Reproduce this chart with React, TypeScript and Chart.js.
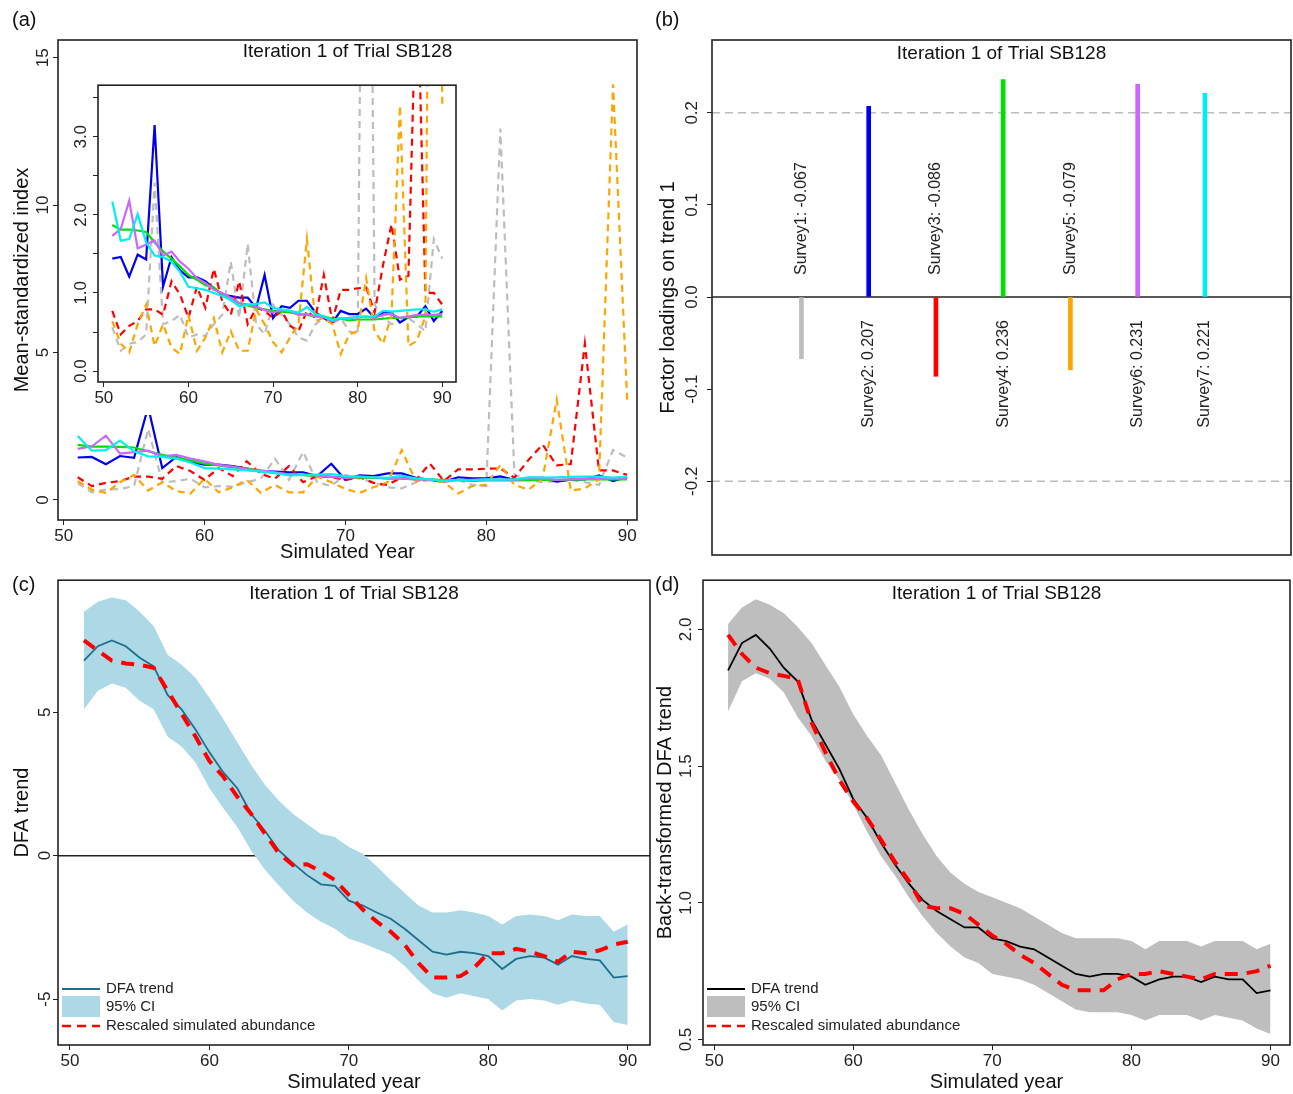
import React, { useEffect, useRef } from 'react';
import { Chart, registerables } from 'chart.js';

Chart.register(...registerables);

const FONT = '"Liberation Sans", Arial, sans-serif';

// ---- data ----
const years = [51, 52, 53, 54, 55, 56, 57, 58, 59, 60, 61, 62, 63, 64, 65, 66, 67, 68, 69, 70,
  71, 72, 73, 74, 75, 76, 77, 78, 79, 80, 81, 82, 83, 84, 85, 86, 87, 88, 89, 90];

// panel (a): mean-standardized survey indices
const survey1 = [0.56, 0.26, 0.35, 0.37, 0.47, 2.41, 0.6, 0.64, 0.72, 0.43, 0.47, 0.45, 0.6, 0.72, 1.4, 0.68, 1.63, 0.6, 0.47, 0.85,
  0.72, 0.6, 0.43, 0.39, 0.6, 0.68, 0.6, 0.68, 0.51, 0.47, 12.6, 0.85, 0.68, 0.6, 0.64, 0.68, 0.6, 0.51, 1.69, 1.44];
const survey2 = [1.44, 1.46, 1.21, 1.49, 1.43, 3.15, 1.08, 1.46, 1.29, 1.2, 1.2, 1.15, 1.06, 0.98, 0.96, 0.94, 0.94, 0.81, 1.23, 0.68,
  0.83, 0.81, 0.9, 0.9, 0.75, 0.68, 0.62, 0.77, 0.73, 0.73, 0.8, 0.68, 0.75, 0.75, 0.62, 0.69, 0.7, 0.83, 0.64, 0.77];
const survey3 = [0.77, 0.47, 0.58, 0.64, 0.79, 0.79, 0.72, 1.15, 0.98, 0.68, 1.08, 0.81, 1.31, 0.89, 0.72, 1.15, 0.6, 0.81, 0.77, 0.68,
  0.77, 0.58, 0.51, 0.77, 0.68, 1.23, 0.64, 1.04, 1.04, 1.06, 1.07, 0.75, 1.36, 1.88, 1.17, 1.22, 5.3, 1.0, 1.0, 0.85];
const survey4 = [1.87, 1.81, 1.81, 1.8, 1.78, 1.65, 1.53, 1.44, 1.34, 1.23, 1.17, 1.1, 1.07, 0.98, 0.91, 0.87, 0.84, 0.81, 0.79, 0.77,
  0.76, 0.75, 0.73, 0.72, 0.7, 0.7, 0.67, 0.67, 0.65, 0.66, 0.66, 0.66, 0.67, 0.68, 0.68, 0.69, 0.7, 0.7, 0.7, 0.7];
const survey5 = [0.64, 0.35, 0.24, 0.6, 0.85, 0.32, 0.6, 0.3, 0.22, 0.72, 0.26, 0.43, 0.68, 0.24, 0.51, 0.26, 0.26, 0.79, 0.6, 0.37,
  0.24, 0.43, 0.6, 1.69, 0.64, 0.68, 0.6, 0.22, 0.47, 0.51, 1.19, 0.51, 0.35, 0.72, 3.4, 0.32, 0.39, 0.7, 14.1, 3.4];
const survey6 = [1.73, 1.82, 2.18, 1.57, 1.62, 1.67, 1.48, 1.53, 1.4, 1.31, 1.19, 1.13, 1.04, 1.0, 0.94, 0.87, 0.85, 0.83, 0.78, 0.75,
  0.78, 0.77, 0.72, 0.73, 0.7, 0.69, 0.64, 0.67, 0.68, 0.69, 0.7, 0.68, 0.72, 0.73, 0.68, 0.7, 0.72, 0.72, 0.72, 0.73];
const survey7 = [2.17, 1.67, 1.69, 2.01, 1.65, 1.48, 1.46, 1.4, 1.27, 1.08, 1.06, 1.04, 1.0, 0.96, 0.91, 0.83, 0.85, 0.86, 0.88, 0.81,
  0.79, 0.77, 0.75, 0.82, 0.73, 0.7, 0.65, 0.68, 0.67, 0.7, 0.69, 0.7, 0.77, 0.76, 0.77, 0.78, 0.79, 0.79, 0.76, 0.79];

const surveyNames = ['Survey1', 'Survey2', 'Survey3', 'Survey4', 'Survey5', 'Survey6', 'Survey7'];
const surveyColors = ['#bdbdbd', '#0000ee', '#ff0000', '#00e000', '#ffa500', '#cc66ff', '#00eeee'];
const surveyDashed = [true, false, true, false, true, false, false];
const surveyValues = [survey1, survey2, survey3, survey4, survey5, survey6, survey7];

// panel (b): factor loadings
const loadings = [-0.067, 0.207, -0.086, 0.236, -0.079, 0.231, 0.221];

// panel (c): DFA trend
const dfaTrend = [6.8, 7.3, 7.5, 7.3, 6.9, 6.6, 5.6, 5.1, 4.4, 3.6, 2.9, 2.35, 1.45, 0.85, 0.17, -0.27, -0.68, -1.0, -1.05, -1.57,
  -1.74, -1.98, -2.2, -2.55, -2.95, -3.35, -3.45, -3.35, -3.4, -3.5, -3.95, -3.6, -3.5, -3.55, -3.8, -3.5, -3.6, -3.65, -4.25, -4.2];
const dfaUpper = [8.5, 8.85, 9.0, 8.9, 8.5, 8.0, 7.0, 6.65, 6.2, 5.5, 4.75, 3.95, 3.15, 2.45, 1.9, 1.45, 1.1, 0.75, 0.65, 0.3,
  0.07, -0.37, -0.85, -1.3, -1.74, -1.98, -1.98, -1.9, -1.98, -2.1, -2.4, -2.1, -2.05, -2.1, -2.25, -2.05, -2.1, -2.1, -2.65, -2.4];
const dfaLower = [5.1, 5.75, 6.0, 5.85, 5.4, 5.1, 4.15, 3.8, 3.25, 2.35, 1.65, 1.0, 0.17, -0.5, -1.05, -1.57, -1.98, -2.3, -2.55, -2.9,
  -3.05, -3.25, -3.45, -3.85, -4.35, -4.8, -4.95, -4.8, -4.9, -5.0, -5.4, -5.05, -5.0, -5.05, -5.2, -5.05, -5.15, -5.2, -5.8, -5.9];
const dfaAbund = [7.5, 7.15, 6.8, 6.7, 6.65, 6.55, 5.75, 4.95, 4.15, 3.3, 2.75, 2.05, 1.45, 0.75, 0.07, -0.33, -0.3, -0.55, -0.85, -1.37,
  -1.88, -2.3, -2.65, -3.1, -3.75, -4.25, -4.25, -4.2, -3.9, -3.4, -3.4, -3.25, -3.35, -3.5, -3.7, -3.35, -3.4, -3.3, -3.1, -3.0];

// panel (d): back-transformed DFA trend
const btTrend = [1.85, 1.95, 1.98, 1.93, 1.86, 1.81, 1.67, 1.58, 1.49, 1.38, 1.31, 1.22, 1.14, 1.07, 1.01, 0.97, 0.94, 0.91, 0.91, 0.87,
  0.86, 0.84, 0.83, 0.8, 0.77, 0.74, 0.73, 0.74, 0.74, 0.73, 0.7, 0.72, 0.73, 0.73, 0.71, 0.73, 0.72, 0.72, 0.67, 0.68];
const btUpper = [2.02, 2.08, 2.11, 2.09, 2.06, 2.01, 1.95, 1.87, 1.79, 1.69, 1.61, 1.54, 1.44, 1.34, 1.25, 1.17, 1.11, 1.07, 1.04, 1.02,
  1.0, 0.98, 0.95, 0.92, 0.89, 0.87, 0.87, 0.87, 0.87, 0.86, 0.83, 0.86, 0.86, 0.86, 0.84, 0.86, 0.86, 0.86, 0.83, 0.85];
const btLower = [1.7, 1.81, 1.84, 1.82, 1.77, 1.68, 1.61, 1.52, 1.45, 1.36, 1.26, 1.17, 1.1, 1.02, 0.95, 0.89, 0.84, 0.8, 0.78, 0.74,
  0.73, 0.72, 0.7, 0.67, 0.64, 0.61, 0.6, 0.6, 0.6, 0.59, 0.57, 0.59, 0.59, 0.59, 0.57, 0.59, 0.58, 0.57, 0.54, 0.52];
const btAbund = [1.98, 1.91, 1.86, 1.84, 1.83, 1.82, 1.66, 1.55, 1.45, 1.37, 1.31, 1.23, 1.15, 1.08, 0.99, 0.98, 0.98, 0.96, 0.92, 0.88,
  0.85, 0.81, 0.78, 0.74, 0.7, 0.68, 0.68, 0.68, 0.72, 0.74, 0.74, 0.75, 0.74, 0.73, 0.72, 0.74, 0.74, 0.74, 0.75, 0.77];

const TITLE = 'Iteration 1 of Trial SB128';

const pts = (vals: number[]) => vals.map((v, i) => ({ x: years[i], y: v }));

// R-style frame, title, panel letter, and extra reference lines
const framePlugin = (letter: string, lx: number, ly: number, title?: string, ty = 16, hlines: { v: number; dash: number[]; color: string }[] = []) => ({
  id: 'frame',
  beforeDatasetsDraw(chart: any) {
    const { ctx, chartArea: a, scales } = chart;
    ctx.save();
    hlines.forEach((h) => {
      const y = scales.y.getPixelForValue(h.v);
      ctx.strokeStyle = h.color;
      ctx.lineWidth = 1.5;
      ctx.setLineDash(h.dash);
      ctx.beginPath();
      ctx.moveTo(a.left, y);
      ctx.lineTo(a.right, y);
      ctx.stroke();
    });
    ctx.restore();
  },
  afterDraw(chart: any) {
    const { ctx, chartArea: a } = chart;
    ctx.save();
    ctx.strokeStyle = '#222';
    ctx.lineWidth = 1.6;
    ctx.strokeRect(a.left, a.top, a.right - a.left, a.bottom - a.top);
    ctx.fillStyle = '#111';
    ctx.font = `20px ${FONT}`;
    ctx.textBaseline = 'middle';
    ctx.textAlign = 'left';
    ctx.fillText(letter, lx, ly);
    if (title) {
      ctx.font = `19px ${FONT}`;
      ctx.textAlign = 'center';
      ctx.fillText(title, (a.left + a.right) / 2, a.top + ty);
    }
    ctx.restore();
  },
});

const legendPlugin = (lineColor: string, fillColor: string) => ({
  id: 'rlegend',
  afterDraw(chart: any) {
    const { ctx, chartArea: a } = chart;
    const x = a.left + 4;
    const b = a.bottom;
    ctx.save();
    ctx.strokeStyle = lineColor;
    ctx.lineWidth = 2;
    ctx.beginPath();
    ctx.moveTo(x, b - 56);
    ctx.lineTo(x + 38, b - 56);
    ctx.stroke();
    ctx.fillStyle = fillColor;
    ctx.fillRect(x, b - 49, 38, 21);
    ctx.strokeStyle = '#ff0000';
    ctx.lineWidth = 2.5;
    ctx.setLineDash([9, 6]);
    ctx.beginPath();
    ctx.moveTo(x, b - 19);
    ctx.lineTo(x + 38, b - 19);
    ctx.stroke();
    ctx.fillStyle = '#222';
    ctx.font = `15px ${FONT}`;
    ctx.textBaseline = 'middle';
    ctx.fillText('DFA trend', x + 44, b - 56);
    ctx.fillText('95% CI', x + 44, b - 38);
    ctx.fillText('Rescaled simulated abundance', x + 44, b - 19);
    ctx.restore();
  },
});

const loadLabelPlugin = {
  id: 'loadLabels',
  afterDatasetsDraw(chart: any) {
    const { ctx, scales } = chart;
    ctx.save();
    ctx.font = `16px ${FONT}`;
    ctx.fillStyle = '#222';
    ctx.textBaseline = 'middle';
    loadings.forEach((v, i) => {
      const x = scales.x.getPixelForValue(i + 1);
      const y0 = scales.y.getPixelForValue(0);
      ctx.save();
      ctx.translate(x, v > 0 ? y0 + 23 : y0 - 22);
      ctx.rotate(-Math.PI / 2);
      ctx.textAlign = v > 0 ? 'right' : 'left';
      ctx.fillText(`${surveyNames[i]}: ${v.toFixed(3)}`, 0, 0);
      ctx.restore();
    });
    ctx.restore();
  },
};

const whiteBg = {
  id: 'whiteBg',
  beforeDraw(chart: any) {
    const { ctx, width, height } = chart;
    ctx.save();
    ctx.fillStyle = '#fff';
    ctx.fillRect(0, 0, width, height);
    ctx.restore();
  },
};

const tickFont = { family: FONT, size: 17 };
const titleFont = { family: FONT, size: 20 };

const xAxis = (min: number, max: number, h: number, title?: string) => ({
  type: 'linear',
  min,
  max,
  afterFit: (s: any) => { s.height = h; },
  grid: { drawOnChartArea: false, drawTicks: true, tickLength: 5, color: '#222' },
  border: { display: false },
  ticks: { stepSize: 10, includeBounds: false, color: '#222', font: tickFont, padding: 1, maxRotation: 0 },
  title: title ? { display: true, text: title, color: '#111', font: titleFont, padding: 0 } : { display: false },
});

const yAxis = (min: number, max: number, w: number, step: number, title: string | undefined, fmt: (v: number) => string, titlePad = 10) => ({
  min,
  max,
  afterFit: (s: any) => { s.width = w; },
  grid: { drawOnChartArea: false, drawTicks: true, tickLength: 5, color: '#222' },
  border: { display: false },
  ticks: { stepSize: step, includeBounds: false, color: '#222', font: tickFont, padding: 0, minRotation: 90, maxRotation: 90, crossAlign: 'center', callback: (v: number) => fmt(v) },
  title: title ? { display: true, text: title, color: '#111', font: titleFont, padding: { top: titlePad, bottom: 0 } } : { display: false },
});

const lineDs = (data: number[], color: string, width: number, dash: number[] = [], order = 0) => ({
  data: pts(data),
  borderColor: color,
  borderWidth: width,
  borderDash: dash,
  pointRadius: 0,
  fill: false,
  tension: 0,
  order,
});

const surveyDatasets = (w: number) =>
  surveyValues.map((vals, i) => lineDs(vals, surveyColors[i], w, surveyDashed[i] ? [7, 5] : [], 7 - i));

const baseOptions = (scales: any, padding: any) => ({
  responsive: false,
  animation: false,
  layout: { padding },
  plugins: { legend: { display: false }, tooltip: { enabled: false } },
  scales,
});

const configA = () => ({
  type: 'line',
  data: { datasets: surveyDatasets(2.2) },
  options: baseOptions(
    { x: xAxis(49.6, 90.7, 44, 'Simulated Year'), y: yAxis(-0.68, 15.6, 58, 5, 'Mean-standardized index', (v) => String(v)) },
    { top: 40, right: 13, left: 0, bottom: 6 },
  ),
  plugins: [framePlugin('(a)', 12, 20, TITLE, 12)],
});

const configInset = () => ({
  type: 'line',
  data: { datasets: surveyDatasets(2.2) },
  options: baseOptions(
    {
      x: xAxis(49.31, 91.62, 33, undefined),
      y: yAxis(-0.14, 3.66, 38, 0.5, undefined, (v) => (Math.abs(v % 1) < 1e-6 ? v.toFixed(1) : '')),
    },
    { top: 7, right: 4, left: 0, bottom: 0 },
  ),
  plugins: [whiteBg, framePlugin('', 0, 0)],
});

const configB = () => ({
  type: 'bar',
  data: {
    datasets: [{
      data: loadings.map((v, i) => ({ x: i + 1, y: v })),
      backgroundColor: surveyColors,
      barThickness: 4,
    }],
  },
  options: baseOptions(
    {
      x: { type: 'linear', min: -0.33, max: 8.28, offset: false, grid: { offset: false }, display: false },
      y: yAxis(-0.28, 0.279, 62, 0.1, 'Factor loadings on trend 1', (v) => v.toFixed(1), 6),
    },
    { top: 40, right: 2, left: 0, bottom: 15 },
  ),
  plugins: [
    framePlugin('(b)', 5, 20, TITLE, 14, [
      { v: 0.2, dash: [8, 5], color: '#bbbbbb' },
      { v: -0.2, dash: [8, 5], color: '#bbbbbb' },
      { v: 0, dash: [], color: '#222' },
    ]),
    loadLabelPlugin,
  ],
});

const configC = () => ({
  type: 'line',
  data: {
    datasets: [
      { ...lineDs(dfaUpper, 'rgba(0,0,0,0)', 0, [], 3), fill: '+1', backgroundColor: '#add8e6' },
      lineDs(dfaLower, 'rgba(0,0,0,0)', 0, [], 3),
      lineDs(dfaTrend, '#1f6e8c', 1.8, [], 1),
      lineDs(dfaAbund, '#ff0000', 4, [13, 9], 0),
    ],
  },
  options: baseOptions(
    { x: xAxis(49.14, 91.6, 49, 'Simulated year'), y: yAxis(-6.6, 9.6, 58, 5, 'DFA trend', (v) => String(v)) },
    { top: 0, right: 2, left: 0, bottom: 0 },
  ),
  plugins: [
    framePlugin('(c)', 12, 15, TITLE, 14, [{ v: 0, dash: [], color: '#222' }]),
    legendPlugin('#1f6e8c', '#add8e6'),
  ],
});

const configD = () => ({
  type: 'line',
  data: {
    datasets: [
      { ...lineDs(btUpper, 'rgba(0,0,0,0)', 0, [], 3), fill: '+1', backgroundColor: '#bebebe' },
      lineDs(btLower, 'rgba(0,0,0,0)', 0, [], 3),
      lineDs(btTrend, '#000000', 1.8, [], 1),
      lineDs(btAbund, '#ff0000', 4, [13, 9], 0),
    ],
  },
  options: baseOptions(
    { x: xAxis(49.2, 91.4, 49, 'Simulated year'), y: yAxis(0.48, 2.18, 53, 0.5, 'Back-transformed DFA trend', (v) => v.toFixed(1), 3) },
    { top: 0, right: 3, left: 0, bottom: 0 },
  ),
  plugins: [framePlugin('(d)', 5, 15, TITLE, 14), legendPlugin('#000000', '#bebebe')],
});

const Panel: React.FC<{ make: () => any; left: number; top: number; width: number; height: number }> = ({ make, left, top, width, height }) => {
  const ref = useRef<HTMLCanvasElement>(null);
  useEffect(() => {
    if (!ref.current) return;
    const chart = new Chart(ref.current, make());
    return () => chart.destroy();
  }, [make]);
  return (
    <canvas ref={ref} width={width} height={height}
      style={{ position: 'absolute', left, top, width, height }} />
  );
};

const App: React.FC = () => (
  <div style={{ position: 'absolute', left: 0, top: 0, width: 1293, height: 1094, background: '#fff', overflow: 'hidden' }}>
    <Panel make={configA} left={0} top={0} width={650} height={570} />
    <Panel make={configInset} left={60} top={75} width={400} height={340} />
    <Panel make={configB} left={650} top={0} width={643} height={570} />
    <Panel make={configC} left={0} top={570} width={652} height={524} />
    <Panel make={configD} left={650} top={570} width={643} height={524} />
  </div>
);

export default App;
